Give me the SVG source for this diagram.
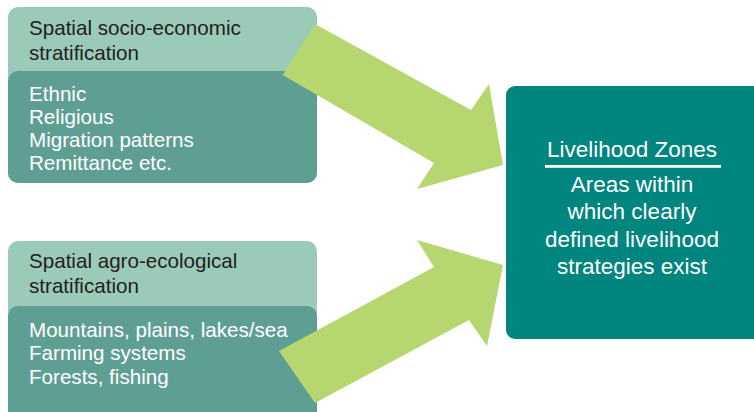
<svg xmlns="http://www.w3.org/2000/svg" width="754" height="412" viewBox="0 0 754 412">
<style>
.light{fill:#9ccab8}
.dark{fill:#5f9f93}
.arrow{fill:#b6d670}
.zone{fill:#00857f}
.t{font-family:"Liberation Sans",Arial,sans-serif;font-size:20.6px}
.hd{fill:#222222}
.wt{fill:#ffffff}
.rt{font-family:"Liberation Sans",Arial,sans-serif;font-size:22.5px;fill:#ffffff;text-anchor:middle}
</style>
<rect width="754" height="412" fill="#ffffff"/>
<g id="socio">
<rect class="light" x="8" y="7" width="309" height="176" rx="10"/>
<rect class="dark" x="8" y="71" width="309" height="112" rx="10"/>
<text class="t hd" x="29" y="35">Spatial socio-economic</text>
<text class="t hd" x="29" y="59.5">stratification</text>
<text class="t wt" x="29" y="100.5">Ethnic</text>
<text class="t wt" x="29" y="123.8">Religious</text>
<text class="t wt" x="29" y="147.1">Migration patterns</text>
<text class="t wt" x="29" y="170.4">Remittance etc.</text>
</g>
<g id="agro">
<rect class="light" x="8" y="241" width="309" height="185" rx="10"/>
<rect class="dark" x="8" y="306" width="309" height="120" rx="10"/>
<text class="t hd" x="29" y="267.5">Spatial agro-ecological</text>
<text class="t hd" x="29" y="293">stratification</text>
<text class="t wt" x="29" y="336.7">Mountains, plains, lakes/sea</text>
<text class="t wt" x="29" y="360.2">Farming systems</text>
<text class="t wt" x="29" y="383.8">Forests, fishing</text>
</g>
<g id="zones">
<rect class="zone" x="506" y="86" width="256" height="253" rx="9"/>
<text class="rt" x="632" y="157">Livelihood Zones</text>
<rect x="545" y="165" width="176" height="2.8" fill="#ffffff"/>
<text class="rt" x="632" y="191.7">Areas within</text>
<text class="rt" x="632" y="219.3">which clearly</text>
<text class="rt" x="632" y="246.8">defined livelihood</text>
<text class="rt" x="632" y="274.3">strategies exist</text>
</g>
<g id="connectors">
<polygon class="arrow" points="315,24 282.7,75 434,163 417,189 503,165 489,84 471,110"/>
<polygon class="arrow" points="417,240 434,267 279,351 315,403 469,320 487,346 503,265"/>
</g>
</svg>
